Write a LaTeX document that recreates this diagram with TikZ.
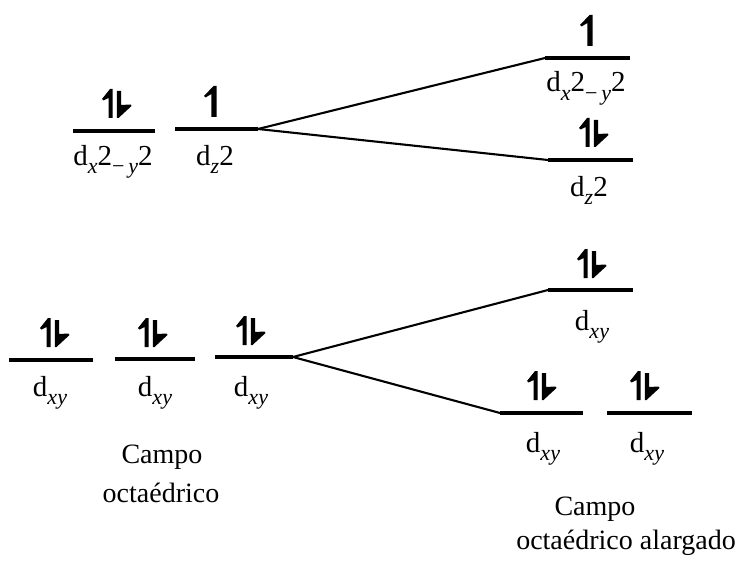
\documentclass[tikz,border=0pt]{standalone}
\usepackage{fontspec}
\setmainfont{Liberation Serif}
\tikzset{
  lvl/.style={line width=3.2pt},
  conn/.style={line width=2.1pt},
  lab/.style={anchor=base, inner sep=0pt, font=\fontsize{29}{30}\selectfont},
  captext/.style={anchor=base, inner sep=0pt, font=\fontsize{28}{30}\selectfont},
  spinup/.pic={\fill (2.6,0) -- (2.6,-31) -- (-0.5,-31) -- (-10,-21) -- (-8.5,-19.5) -- (-2.6,-23) -- (-2.6,0) -- cycle;},
  spinpair/.pic={
    \fill (-4.3,0) -- (-4.3,-29) -- (-7,-29) -- (-15,-19) -- (-13.5,-17.5) -- (-8.5,-20) -- (-8.5,0) -- cycle;
    \fill (-0.2,-27) -- (-0.2,0) -- (1.5,0) -- (14.5,-12) -- (13.5,-13.5) -- (4,-13) -- (4,-27) -- cycle;}
}
\newcommand{\subtx}[1]{\raisebox{-0.3em}{\fontsize{22}{22}\selectfont\itshape #1}}
\newcommand{\dxy}{d\subtx{xy}}
\newcommand{\dxxyy}{d\subtx{x}2\subtx{\textup{−}\,y}2}
\newcommand{\dzz}{d\subtx{z}2}
\begin{document}
\begin{tikzpicture}[x=1pt,y=-1pt]
\useasboundingbox (0,0) rectangle (739,567);
% level end points
\coordinate (a1) at (73,131);  \coordinate (a2) at (155,131);
\coordinate (b1) at (175,129); \coordinate (s1) at (258,129);
\coordinate (c1) at (545,58);  \coordinate (c2) at (630,58);
\coordinate (e1) at (548,160); \coordinate (e2) at (633,160);
\coordinate (f1) at (9,360);   \coordinate (f2) at (93,360);
\coordinate (g1) at (115,359); \coordinate (g2) at (195,359);
\coordinate (h1) at (215,357); \coordinate (s2) at (293,357);
\coordinate (k1) at (548,290); \coordinate (k2) at (633,290);
\coordinate (m1) at (500,413); \coordinate (m2) at (583,413);
\coordinate (n1) at (607,413); \coordinate (n2) at (692,413);
% levels
\foreach \p/\q in {a1/a2,b1/s1,c1/c2,e1/e2,f1/f2,g1/g2,h1/s2,k1/k2,m1/m2,n1/n2}
  \draw[lvl] (\p) -- (\q);
% connectors
\draw[conn] (s1) -- (c1);
\draw[conn] (s1) -- (e1);
\draw[conn] (s2) -- (k1);
\draw[conn] (s2) -- (m1);
% electrons
\pic at (117,118) {spinpair};
\pic at (214,117) {spinup};
\pic at (590,46) {spinup};
\pic at (594,147) {spinpair};
\pic at (55,347) {spinpair};
\pic at (153,347) {spinpair};
\pic at (251,345) {spinpair};
\pic at (592,278) {spinpair};
\pic at (542,400) {spinpair};
\pic at (645,400) {spinpair};
% labels
\node[lab] (la) at (113,165) {\dxxyy};
\node[lab] (lb) at (215,165) {\dzz};
\node[lab] (lc) at (586,92) {\dxxyy};
\node[lab] (le) at (589,196) {\dzz};
\node[lab] (lf) at (50,396) {\dxy};
\node[lab] (lg) at (155,396) {\dxy};
\node[lab] (lh) at (251,396) {\dxy};
\node[lab] (lk) at (592,330) {\dxy};
\node[lab] (lm) at (543,452) {\dxy};
\node[lab] (ln) at (647,452) {\dxy};
% captions
\node[captext] (t1) at (162,463) {Campo};
\node[captext] (t2) at (161,502) {octaédrico};
\node[captext] (t3) at (595,515) {Campo};
\node[captext] (t4) at (626,549) {octaédrico alargado};
\end{tikzpicture}
\end{document}
